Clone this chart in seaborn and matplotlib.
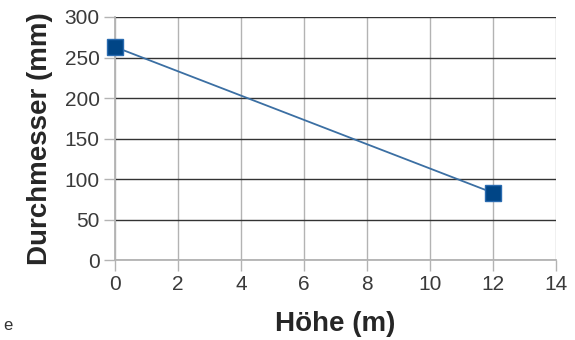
import matplotlib
matplotlib.use("Agg")
import matplotlib.pyplot as plt
import seaborn as sns
import pandas as pd

# data
hoehe = [0, 12]
durchmesser = [263, 83]
x_ticks = [0, 2, 4, 6, 8, 10, 12, 14]
y_ticks = [0, 50, 100, 150, 200, 250, 300]

df = pd.DataFrame({"Höhe (m)": hoehe, "Durchmesser (mm)": durchmesser})

sns.set_style("white")
plt.rcParams["font.family"] = ["Liberation Sans", "DejaVu Sans"]

fig = plt.figure(figsize=(5.75, 3.4), dpi=100)
ax = fig.add_axes([0.2, 0.235, 0.767, 0.715])

sns.lineplot(data=df, x="Höhe (m)", y="Durchmesser (mm)", ax=ax,
             color="#3b6fa3", linewidth=1.3, marker="s", markersize=11,
             markerfacecolor="#004586", markeredgecolor="#2a6bb0",
             markeredgewidth=1.0, clip_on=False, zorder=5)

ax.set_xlim(0, 14)
ax.set_ylim(0, 300)
ax.set_xticks(x_ticks)
ax.set_yticks(y_ticks)

# horizontal grid darker, vertical grid light gray
ax.grid(axis="y", color="#333333", linewidth=1.0)
ax.grid(axis="x", color="#b3b3b3", linewidth=1.0)
ax.set_axisbelow(True)
for s in ["top", "right"]:
    ax.spines[s].set_visible(False)
for s in ["left", "bottom"]:
    ax.spines[s].set_color("#b3b3b3")
    ax.spines[s].set_linewidth(1.3)

ax.tick_params(axis="both", direction="out", length=8, width=1.0,
               colors="#b3b3b3", labelcolor="#3a3a3a", labelsize=15,
               bottom=True, left=True, pad=3)

ax.set_xlabel("Höhe (m)", fontsize=20, fontweight="bold", labelpad=12)
ax.set_ylabel("Durchmesser (mm)", fontsize=20, fontweight="bold", labelpad=8)

fig.text(0.005, 0.03, "e", fontsize=12, color="#333333")

fig.savefig("out.png", dpi=100)
